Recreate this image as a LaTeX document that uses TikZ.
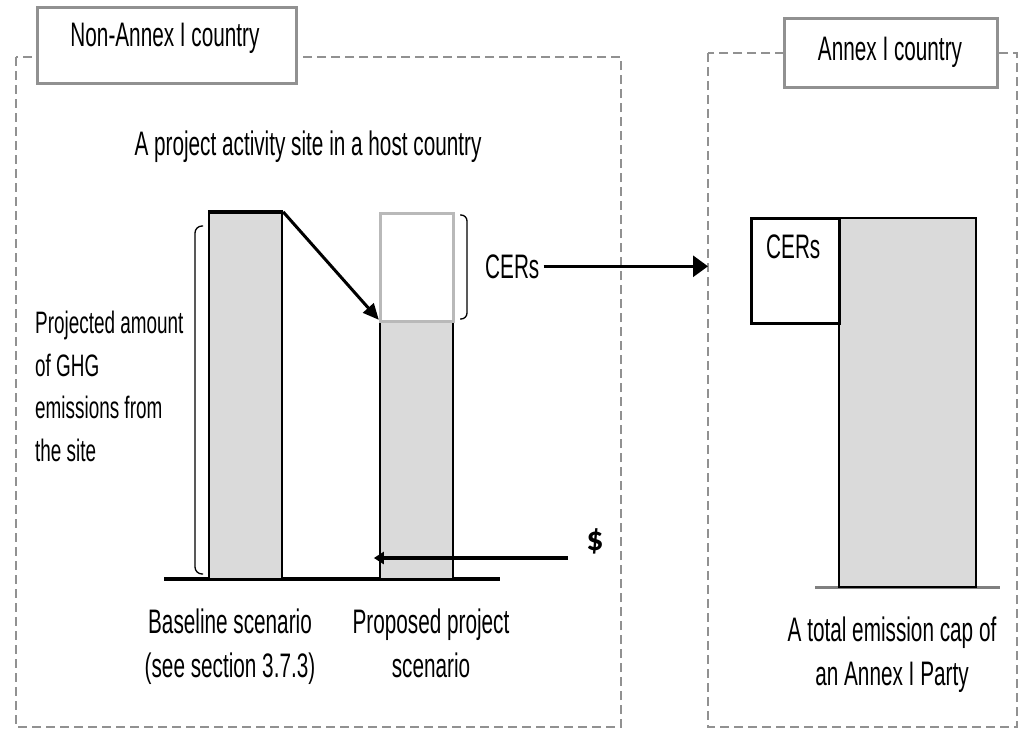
\documentclass[tikz,border=0pt]{standalone}
\usepackage{fontspec}
\setmainfont{Liberation Sans}[FakeStretch=0.61]
\newfontfamily\dollarfont{Carlito}
\usetikzlibrary{arrows.meta,positioning}

\definecolor{barfill}{RGB}{218,218,218}
\definecolor{framegray}{RGB}{145,145,145}
\definecolor{cergray}{RGB}{185,185,185}

\tikzset{
    region/.style={draw=framegray, line width=1.8pt, dash pattern=on 9pt off 5pt},
    tagbox/.style={draw=framegray, line width=3pt, fill=white},
    bar/.style={draw=black, line width=2.3pt, fill=barfill, inner sep=0pt},
    arr/.style={line width=3pt, -{Triangle[length=15pt,width=15pt]}},
    txt/.style={inner sep=0pt, font=\fontsize{34}{44}\selectfont},
    smalltxt/.style={inner sep=0pt, font=\fontsize{31}{42.5}\selectfont, align=left}
}

\begin{document}
\begin{tikzpicture}[x=1pt,y=-1pt]
            \useasboundingbox (0,0) rectangle (1019,731);

            % the two countries
            \draw[region] (16,57) rectangle (621,727);
            \draw[region] (708,53) rectangle (1017,727);
            \node[tagbox, minimum width=259pt, minimum height=76pt] (natag) at (166.5,45) {};
            \node[txt, anchor=base] (natext) at (165,46) {Non-Annex I country};
            \node[tagbox, minimum width=213pt, minimum height=69pt] (atag) at (890.5,52.5) {};
            \node[txt, anchor=base] (atext) at (890,60) {Annex I country};
            \node[txt, anchor=base] (site) at (308,155) {A project activity site in a host country};

            % host country bars
            \draw[line width=3.5pt] (164,579) -- (500,579);
            \node[bar, minimum width=73pt, minimum height=366pt] (base) at (245.5,396) {};
            \draw[line width=4pt] (base.north west) -- (base.north east);
            \node[bar, minimum width=73pt, minimum height=258pt] (proj) at (416.5,450) {};
            \node[draw=cergray, line width=3pt, fill=white, minimum width=73pt, minimum height=108pt] (cerbox) at (416.5,267) {};
            \draw[line width=1.3pt, rounded corners=7pt] (203,226) -| (195,574) -- (203,574);
            \draw[line width=1.3pt, rounded corners=6pt] (460,215) -| (467,319) -- (460,319);
            \draw[arr, -{Triangle[length=16pt,width=14pt]}] (base.north east) -- (proj.north west);

            % Annex I bars
            \draw[line width=3pt, draw=gray] (815,587) -- (1000,587);
            \node[bar, minimum width=137pt, minimum height=369pt] (cap) at (907.5,402.5) {};
            \node[bar, fill=white, line width=3pt, minimum width=88pt, minimum height=105pt] (capcer) at (795,270.5) {};
            \node[txt, anchor=base west] (cerr) at (766,258) {CERs};

            % flows
            \node[txt, anchor=base west] (cerl) at (485,278) {CERs};
            \coordinate (aentry) at (708,268);
            \draw[arr, -{Triangle[length=15pt,width=21pt]}, shorten <=4pt] (cerl.east) -- (cerl.east -| aentry);
            \node[font=\dollarfont\bfseries\fontsize{34}{36}\selectfont, inner sep=0pt] (dollar) at (595,541) {\$};
            \coordinate (paystart) at (568,558);
            \draw[line width=3.8pt, -{Triangle[length=10pt,width=12pt]}, shorten >=-5pt] (paystart) -- (paystart -| proj.west);

            % captions
            \node[smalltxt, anchor=north west] (ghgtext) at (35,311) {Projected amount\\of GHG\\emissions from\\the site};
            \node[txt, anchor=north, align=center] (basetext) at (230,609) {Baseline scenario\\(see section 3.7.3)};
            \node[txt, anchor=north, align=center] (projtext) at (431,609) {Proposed project\\scenario};
            \node[txt, anchor=north, align=center] (captext) at (892,617) {A total emission cap of\\an Annex I Party};
        \end{tikzpicture}
\end{document}
